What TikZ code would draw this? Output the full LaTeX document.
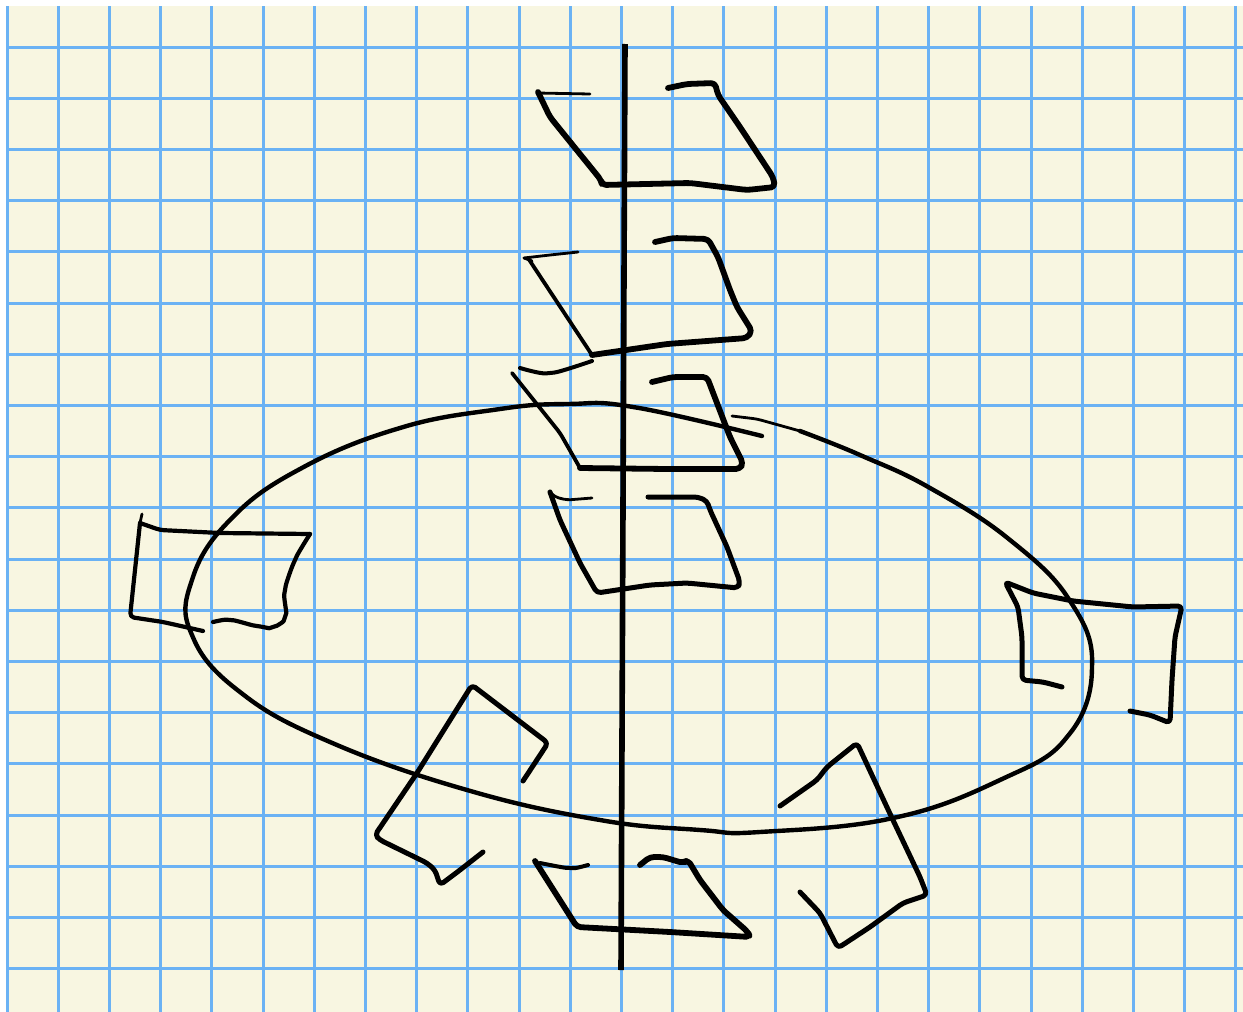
\documentclass[tikz,border=0pt]{standalone}
\usepackage{tikz}
\definecolor{paper}{HTML}{F8F6E1}
\definecolor{gridblue}{HTML}{6BB2F4}
\tikzset{
  gridline/.style={draw=gridblue, line width=1.5pt},
  pen/.style={draw=black, line width=2.5pt, line cap=round, line join=round, rounded corners=2pt},
  thinpen/.style={pen, line width=1.4pt},
  axisline/.style={draw=black, line width=2.8pt}
}
\begin{document}
\begin{tikzpicture}[x=0.5pt, y=-0.5pt]
  \useasboundingbox (0,0) rectangle (1243,1012);
  \fill[white] (0,0) rectangle (1243,1012);
  \fill[paper] (6,6) rectangle (1243,1012);
  % grid paper
  \foreach \k in {0,...,24}
    \draw[gridline] ({7+51.2*\k},6) -- ({7+51.2*\k},1012);
  \foreach \k in {0,...,18}
    \draw[gridline] (6,{47+51.2*\k}) -- (1243,{47+51.2*\k});

  % the axis
  \draw[axisline] (625,44) -- (621,970);

  % the big ring
  \draw[pen, line width=2.2pt] plot[smooth, tension=0.7] coordinates {
    (762,436) (633,407) (567,404) (500,409) (400,428)
    (300,469) (230,520) (192,580) (192,635)
    (240,692) (330,742) (467,790)
    (600,820) (700,830) (760,832) (893,818)
    (1000,780) (1067,737) (1092,667) (1070,601)
    (1010,540) (930,488) (860,455) (800,431)};
  \draw[thinpen] (732,416) -- (757,419) -- (800,431);

  % top square
  \draw[thinpen] (537,93) -- (590,94);
  \draw[pen, line width=2.9pt] (538,92) -- (550,117) -- (601,180) -- (602,185)
    -- (690,183) -- (747,190) -- (775,187) -- (773,177) -- (740,127)
    -- (718,95) -- (715,83) -- (687,84) -- (668,88);

  % second square
  \draw[thinpen] (524,258) -- (550,255) -- (578,252);
  \draw[thinpen] (524,258) -- (532,261);
  \draw[pen, line width=1.9pt] (528,258) -- (592,355);
  \draw[pen, line width=2.9pt] (592,355) -- (667,344) -- (747,338) -- (752,331)
    -- (737,307) -- (730,290) -- (718,257) -- (708,239) -- (673,238) -- (655,242);
  \draw[thinpen, line width=2pt] plot[smooth] coordinates {(520,368) (550,373) (592,361)};

  % third square
  \draw[pen, line width=1.9pt] (512,373) -- (560,433) -- (580,468);
  \draw[pen, line width=2.9pt] (580,468) -- (667,469) -- (740,469) -- (743,463)
    -- (730,437) -- (707,377) -- (673,377) -- (652,382);

  % fourth square
  \draw[thinpen] (550,492) -- (555,497) -- (567,500) -- (592,498);
  \draw[pen] (550,492) -- (560,520) -- (580,563) -- (597,593) -- (650,585)
    -- (687,583) -- (738,588) -- (740,582) -- (727,547) -- (710,510)
    -- (707,501) -- (698,497) -- (648,497);

  % left square
  \draw[thinpen] (142,514) -- (140,523);
  \draw[pen, line width=2.1pt] (140,523) -- (160,530) -- (220,533) -- (310,534);
  \draw[pen, line width=2.1pt] (140,523) -- (130,617) -- (163,622) -- (203,631);
  \draw[pen, line width=2.1pt] plot[smooth, tension=0.5] coordinates {
    (310,534) (295,560) (285,590) (285,617) (273,627) (257,626) (230,620) (213,622)};

  % right square
  \draw[pen] (1062,687) -- (1043,682) -- (1022,680) -- (1022,637) -- (1018,607)
    -- (1005,582) -- (1033,593) -- (1073,601) -- (1133,607) -- (1182,606)
    -- (1175,637) -- (1172,680) -- (1170,723) -- (1150,715) -- (1130,711);

  % lower left square
  \draw[pen] (523,781) -- (548,743) -- (472,685) -- (417,773) -- (375,835)
    -- (380,840) -- (427,863) -- (435,870) -- (440,885) -- (460,870) -- (483,852);

  % lower right square
  \draw[pen] (780,806) -- (817,780) -- (827,767) -- (857,743) -- (892,818)
    -- (920,877) -- (927,895) -- (903,903) -- (870,927) -- (838,948)
    -- (820,913) -- (800,892);

  % bottom square
  \draw[thinpen, line width=2pt] plot[smooth] coordinates {(540,863) (570,868) (588,865)};
  \draw[pen, line width=2.9pt] (535,861) -- (577,927) -- (670,932) -- (750,937)
    -- (748,932) -- (723,910) -- (700,880) -- (688,860) -- (683,863)
    -- (663,857) -- (650,857) -- (640,865);
\end{tikzpicture}
\end{document}
